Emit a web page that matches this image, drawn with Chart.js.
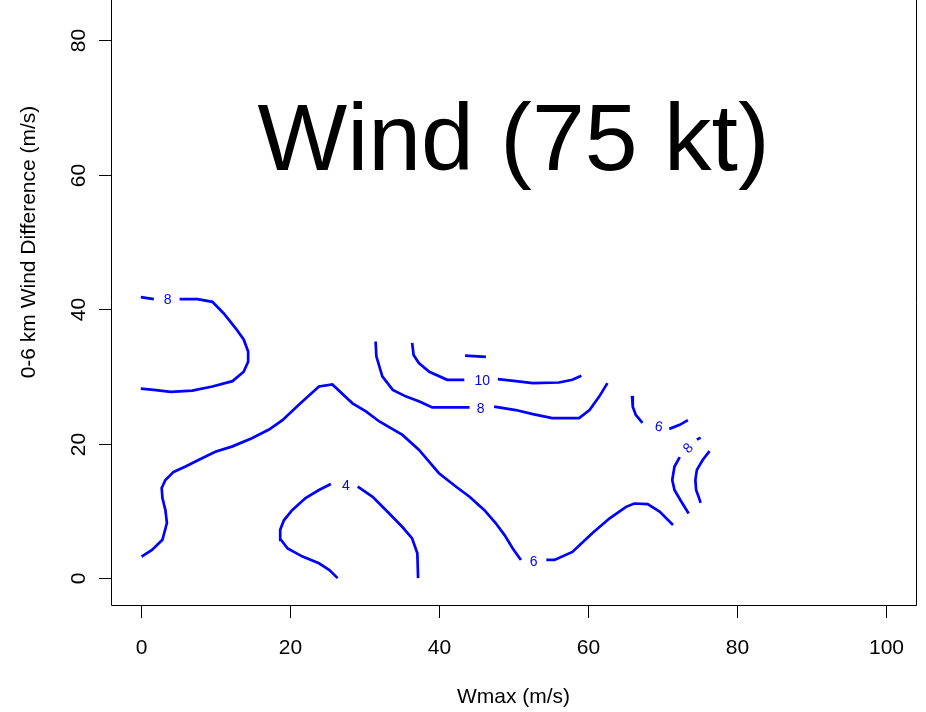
<!DOCTYPE html>
<html>
<head>
<meta charset="utf-8">
<script src="https://cdn.jsdelivr.net/npm/chart.js@4/dist/chart.umd.min.js"></script>
<style>
  html, body { margin: 0; padding: 0; background: #ffffff; }
  #wrap { width: 926px; height: 712px; }
</style>
</head>
<body>
<div id="wrap"><canvas id="chart" width="926" height="712"></canvas></div>
<script>
// Axis ticks
const xTicks = [0, 20, 40, 60, 80, 100];
const yTicks = [0, 20, 40, 60, 80];

// Contour lines, [Wmax, wind difference]; each labelled contour is split at its label
const c8WestA = [[0, 41.8], [1.75, 41.5]];
const c8WestB = [[5.2, 41.5], [7.6, 41.5], [9.6, 41.1], [11.1, 39.4], [12.7, 37.2], [13.8, 35.5],
  [14.4, 33.7], [14.4, 32.2], [13.8, 30.7], [12.3, 29.3], [9.6, 28.5], [6.9, 27.9], [4.0, 27.7],
  [1.75, 28.0], [0, 28.2]];

const c6MainA = [[0.1, 3.2], [1.5, 4.2], [2.9, 5.7], [3.5, 8.2], [3.3, 10.1], [2.9, 11.9], [2.8, 13.4],
  [3.3, 14.6], [4.4, 15.8], [6.0, 16.6], [7.8, 17.6], [10.0, 18.8], [12.3, 19.6], [14.9, 20.8],
  [17.2, 22.1], [19.0, 23.5], [21.2, 25.8], [23.9, 28.5], [25.7, 28.8], [28.4, 26.0], [30.2, 24.8],
  [32.0, 23.3], [35.1, 21.3], [37.3, 19.1], [38.7, 17.3], [40.0, 15.6], [42.3, 13.6], [44.1, 12.1],
  [46.1, 10.1], [47.6, 8.2], [48.8, 6.4], [49.9, 4.4], [51.0, 2.7]];
const c6MainB = [[54.4, 2.7], [55.5, 2.7], [57.9, 3.9], [60.6, 6.7], [62.9, 8.9], [65.1, 10.6],
  [66.2, 11.1], [68.0, 11.0], [69.6, 9.9], [71.4, 7.9]];

const c4A = [[26.4, 0], [25.3, 1.2], [23.9, 2.2], [21.7, 3.2], [19.7, 4.4], [18.8, 5.7], [18.7, 7.2],
  [19.2, 8.6], [20.3, 10.1], [22.1, 11.9], [23.9, 13.1], [25.5, 14.0]];
const c4B = [[29.1, 13.6], [31.1, 12.1], [32.9, 10.1], [35.1, 7.6], [36.4, 5.9], [37.1, 3.7], [37.2, 0]];

const c8MidA = [[31.5, 35.2], [31.6, 33.0], [32.4, 30.0], [33.8, 28.0], [35.6, 27.0], [37.3, 26.3],
  [39.1, 25.4], [44.1, 25.4]];
const c8MidB = [[47.4, 25.5], [50.3, 25.0], [52.6, 24.4], [55.2, 23.8], [58.8, 23.8], [60.2, 25.0],
  [61.5, 27.0], [62.6, 29.0]];

const c10MidA = [[36.4, 35.0], [36.6, 33.2], [37.3, 32.0], [38.7, 30.7], [41.1, 29.5], [43.4, 29.5]];
const c10MidB = [[47.9, 29.6], [50.3, 29.3], [52.6, 29.0], [56.1, 29.1], [57.9, 29.5], [59.1, 30.1]];

const c12Mid = [[43.5, 33.1], [46.3, 32.9]];

const c6EastA = [[65.9, 27.1], [66.0, 25.5], [66.4, 24.3], [67.3, 23.1]];
const c6EastB = [[70.9, 22.2], [72.3, 22.8], [73.4, 23.5]];

const c8EastA = [[74.6, 20.6], [75.1, 20.9]];
const c8EastB = [[72.3, 18.0], [71.6, 16.6], [71.3, 14.6], [71.6, 13.1], [72.5, 11.4], [73.5, 9.6]];

const c10East = [[76.3, 18.9], [75.4, 17.6], [74.6, 16.1], [74.4, 14.6], [74.5, 13.1], [74.9, 11.9], [75.1, 11.2]];

// Contour labels
const labelText  = ['8', '6', '4', '8', '10', '6', '8'];
const labelX     = [3.6, 52.7, 27.5, 45.6, 45.8, 69.5, 73.4];
const labelY     = [41.5, 2.5, 13.8, 25.3, 29.4, 22.6, 19.4];
const labelAngle = [0, 0, 0, 0, 0, 10, -45];

const titleText = 'Wind (75 kt)';
const xTitle = 'Wmax (m/s)';
const yTitle = '0-6 km Wind Difference (m/s)';

const contourPieces = [c8WestA, c8WestB, c6MainA, c6MainB, c4A, c4B, c8MidA, c8MidB,
  c10MidA, c10MidB, c12Mid, c6EastA, c6EastB, c8EastA, c8EastB, c10East];

const LINE_BLUE = '#0000ff';
const FONT = '"Liberation Sans", Arial, sans-serif';

const datasets = contourPieces.map(pts => ({
  data: pts.map(p => ({ x: p[0], y: p[1] })),
  showLine: true,
  borderColor: LINE_BLUE,
  backgroundColor: LINE_BLUE,
  borderWidth: 2.7,
  pointRadius: 0,
  pointHoverRadius: 0,
  tension: 0,
  fill: false,
  clip: false
}));

// Frame, axes, titles and contour labels in base-graphics style
const framePlugin = {
  id: 'frame',
  afterDatasetsDraw(chart) {
    const ctx = chart.ctx;
    const xs = chart.scales.x, ys = chart.scales.y;
    const a = chart.chartArea;
    ctx.save();

    // contour labels
    ctx.fillStyle = LINE_BLUE;
    ctx.font = '14px ' + FONT;
    ctx.textAlign = 'center';
    ctx.textBaseline = 'middle';
    labelText.forEach((t, i) => {
      const px = xs.getPixelForValue(labelX[i]);
      const py = ys.getPixelForValue(labelY[i]);
      ctx.save();
      ctx.translate(px, py);
      ctx.rotate(labelAngle[i] * Math.PI / 180);
      ctx.fillText(t, 0, 1);
      ctx.restore();
    });

    // box (top edge lies above the visible area)
    ctx.strokeStyle = '#000000';
    ctx.lineWidth = 1;
    ctx.beginPath();
    ctx.moveTo(a.left + 0.5, a.top);
    ctx.lineTo(a.left + 0.5, a.bottom + 0.5);
    ctx.lineTo(a.right + 0.5, a.bottom + 0.5);
    ctx.lineTo(a.right + 0.5, a.top);
    ctx.stroke();

    ctx.fillStyle = '#000000';
    ctx.font = '21px ' + FONT;

    // x axis ticks and labels
    ctx.textAlign = 'center';
    ctx.textBaseline = 'alphabetic';
    xTicks.forEach(v => {
      const px = Math.round(xs.getPixelForValue(v)) + 0.5;
      ctx.beginPath();
      ctx.moveTo(px, a.bottom);
      ctx.lineTo(px, a.bottom + 13);
      ctx.stroke();
      ctx.fillText(String(v), px, 654);
    });

    // y axis ticks and labels (rotated)
    yTicks.forEach(v => {
      const py = Math.round(ys.getPixelForValue(v)) + 0.5;
      ctx.beginPath();
      ctx.moveTo(a.left - 12, py);
      ctx.lineTo(a.left, py);
      ctx.stroke();
      ctx.save();
      ctx.translate(85, py);
      ctx.rotate(-Math.PI / 2);
      ctx.fillText(String(v), 0, 0);
      ctx.restore();
    });

    // axis titles
    ctx.fillText(xTitle, (xs.getPixelForValue(50)), 703);
    ctx.save();
    ctx.translate(35, ys.getPixelForValue(50));
    ctx.rotate(-Math.PI / 2);
    ctx.fillText(yTitle, 0, 0);
    ctx.restore();

    // main title
    ctx.font = '95px ' + FONT;
    ctx.fillText(titleText, xs.getPixelForValue(50), ys.getPixelForValue(60.7));

    ctx.restore();
  }
};

new Chart(document.getElementById('chart'), {
  type: 'scatter',
  data: { datasets },
  options: {
    responsive: false,
    devicePixelRatio: 1,
    animation: false,
    events: [],
    layout: { padding: { left: 0, right: 10, top: 0, bottom: 0 } },
    plugins: { legend: { display: false }, tooltip: { enabled: false }, title: { display: false } },
    scales: {
      x: {
        type: 'linear', min: -4, max: 104,
        ticks: { display: false },
        grid: { display: false },
        border: { display: false },
        afterFit(s) { s.height = 107; }
      },
      y: {
        type: 'linear', min: -4, max: 86,
        ticks: { display: false },
        grid: { display: false },
        border: { display: false },
        afterFit(s) { s.width = 111; }
      }
    }
  },
  plugins: [framePlugin]
});
</script>
</body>
</html>
